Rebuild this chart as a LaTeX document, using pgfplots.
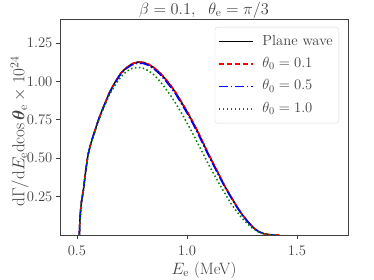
\RequirePackage{fix-cm}
\documentclass[border=0pt]{standalone}
\usepackage{amsmath}
\usepackage{bm}
\usepackage{pgfplots}
\pgfplotsset{compat=1.18}
\definecolor{txt}{gray}{0.25}
\definecolor{mplgreen}{rgb}{0,0.5,0}
\newcommand{\fs}{\fontsize{14.7}{17}\selectfont}
\newcommand{\fx}{\fontsize{16.5}{19}\selectfont}
\newcommand{\fy}{\fontsize{17.2}{20}\selectfont}
\newcommand{\ft}{\fontsize{16.5}{19}\selectfont}
\begin{document}
\fs
\begin{tikzpicture}
\path[use as bounding box] (-60bp,-45bp) rectangle (314bp,235bp);
\begin{axis}[
  scale only axis, width=288bp, height=216bp,
  xmin=0.423, xmax=1.732, ymin=0, ymax=1.407,
  xtick={0.5,1.0,1.5}, ytick={0.25,0.5,0.75,1.0,1.25},
  tick align=outside, xtick pos=bottom, ytick pos=left,
  major tick length=3.5bp,
  every tick/.style={txt, line width=0.8bp},
  axis line style={txt, line width=0.8bp},
  tick label style={txt, font=\fs},
  xticklabel style={anchor=base, yshift=-16.7bp, /pgf/number format/.cd,fixed,fixed zerofill,precision=1},
  yticklabel style={anchor=east, xshift=1bp, /pgf/number format/.cd,fixed,fixed zerofill,precision=2},
  label style={txt},
  xlabel style={font=\fx, at={(axis description cs:0.5,0)}, anchor=base, yshift=-39bp},
  ylabel style={font=\fy, at={(axis description cs:0,0.48)}, anchor=base, yshift=35.5bp},
  title style={txt, font=\ft, at={(axis description cs:0.5,1)}, anchor=base, yshift=-1.3pt},
  title={$\beta=0.1,\ \ \theta_{\rm e}=\pi/3$},
  xlabel={$E_{\rm e}$ (MeV)},
  ylabel={$\mathrm{d}\Gamma/\mathrm{d}E_{\rm e}\mathrm{dcos}\,\bm{\theta}_{\rm e}\times10^{24}$},
  legend style={at={(rel axis cs:1,1)}, anchor=north east, xshift=-9bp, yshift=-8bp,
    draw=gray!30, rounded corners=2.5pt, text=txt, font=\fs,
    inner xsep=3bp, inner ysep=5.4bp, row sep=4.4bp,
    nodes={inner xsep=3bp, inner ysep=2bp, text height=10.5bp, text depth=3.5bp},
    /tikz/every odd column/.append style={column sep=6bp}},
  legend cell align=left,
  legend image code/.code={\draw[line width=1.5bp,#1] (0bp,0bp) -- (34bp,0bp);},
  every axis plot/.append style={line width=1.5bp},
]
\addplot[black, solid] coordinates {
(0.511,0) (0.513,0.08) (0.516,0.15) (0.52,0.21) (0.53,0.30) (0.54,0.42) (0.55,0.52)
(0.56,0.58) (0.575,0.65) (0.60,0.76) (0.625,0.85) (0.65,0.935) (0.675,1.00) (0.70,1.055)
(0.725,1.09) (0.75,1.115) (0.775,1.126) (0.80,1.125) (0.825,1.112) (0.85,1.09) (0.875,1.058)
(0.90,1.02) (0.925,0.975) (0.95,0.925) (0.975,0.865) (1.00,0.805) (1.025,0.74) (1.05,0.67)
(1.075,0.595) (1.10,0.52) (1.125,0.45) (1.15,0.38) (1.175,0.31) (1.20,0.25) (1.225,0.19)
(1.25,0.135) (1.275,0.09) (1.30,0.05) (1.325,0.022) (1.35,0.008) (1.375,0.002) (1.40,0) (1.42,0)};
\addlegendentry{Plane wave}
\addplot[red, dash pattern=on 5.55bp off 2.4bp] coordinates {
(0.511,0) (0.513,0.08) (0.516,0.15) (0.52,0.21) (0.53,0.30) (0.54,0.42) (0.55,0.52)
(0.56,0.58) (0.575,0.65) (0.60,0.76) (0.625,0.85) (0.65,0.935) (0.675,1.00) (0.70,1.055)
(0.725,1.09) (0.75,1.115) (0.775,1.126) (0.80,1.125) (0.825,1.113) (0.85,1.091) (0.875,1.06)
(0.90,1.022) (0.925,0.977) (0.95,0.927) (0.975,0.868) (1.00,0.808) (1.025,0.743) (1.05,0.673)
(1.075,0.598) (1.10,0.523) (1.125,0.452) (1.15,0.382) (1.175,0.312) (1.20,0.251) (1.225,0.191)
(1.25,0.136) (1.275,0.09) (1.30,0.05) (1.325,0.022) (1.35,0.008) (1.375,0.002) (1.40,0) (1.42,0)};
\addlegendentry{$\theta_0=0.1$}
\addplot[blue, dash pattern=on 9.6bp off 2.4bp on 1.5bp off 2.4bp] coordinates {
(0.511,0) (0.513,0.08) (0.516,0.15) (0.52,0.21) (0.53,0.30) (0.54,0.42) (0.55,0.52)
(0.56,0.58) (0.575,0.65) (0.60,0.758) (0.625,0.847) (0.65,0.93) (0.675,0.995) (0.70,1.05)
(0.725,1.085) (0.75,1.108) (0.775,1.119) (0.80,1.118) (0.825,1.105) (0.85,1.082) (0.875,1.05)
(0.90,1.01) (0.925,0.965) (0.95,0.915) (0.975,0.855) (1.00,0.795) (1.025,0.73) (1.05,0.66)
(1.075,0.585) (1.10,0.512) (1.125,0.442) (1.15,0.372) (1.175,0.304) (1.20,0.244) (1.225,0.185)
(1.25,0.132) (1.275,0.088) (1.30,0.05) (1.325,0.023) (1.35,0.008) (1.375,0.002) (1.40,0)};
\addlegendentry{$\theta_0=0.5$}
\addplot[mplgreen, dash pattern=on 1.5bp off 2.475bp] coordinates {
(0.511,0) (0.513,0.08) (0.516,0.15) (0.52,0.21) (0.53,0.30) (0.54,0.42) (0.55,0.515)
(0.56,0.575) (0.575,0.645) (0.60,0.75) (0.625,0.84) (0.65,0.92) (0.675,0.98) (0.70,1.03)
(0.725,1.065) (0.75,1.085) (0.775,1.092) (0.80,1.087) (0.825,1.07) (0.85,1.043) (0.875,1.005)
(0.90,0.96) (0.925,0.91) (0.95,0.855) (0.975,0.795) (1.00,0.73) (1.025,0.665) (1.05,0.595)
(1.075,0.525) (1.10,0.455) (1.125,0.39) (1.15,0.325) (1.175,0.265) (1.20,0.205) (1.225,0.155)
(1.25,0.11) (1.275,0.072) (1.30,0.042) (1.325,0.02) (1.35,0.007) (1.375,0.002) (1.40,0)};
\addlegendentry{$\theta_0=1.0$}
\end{axis}
\end{tikzpicture}
\end{document}
